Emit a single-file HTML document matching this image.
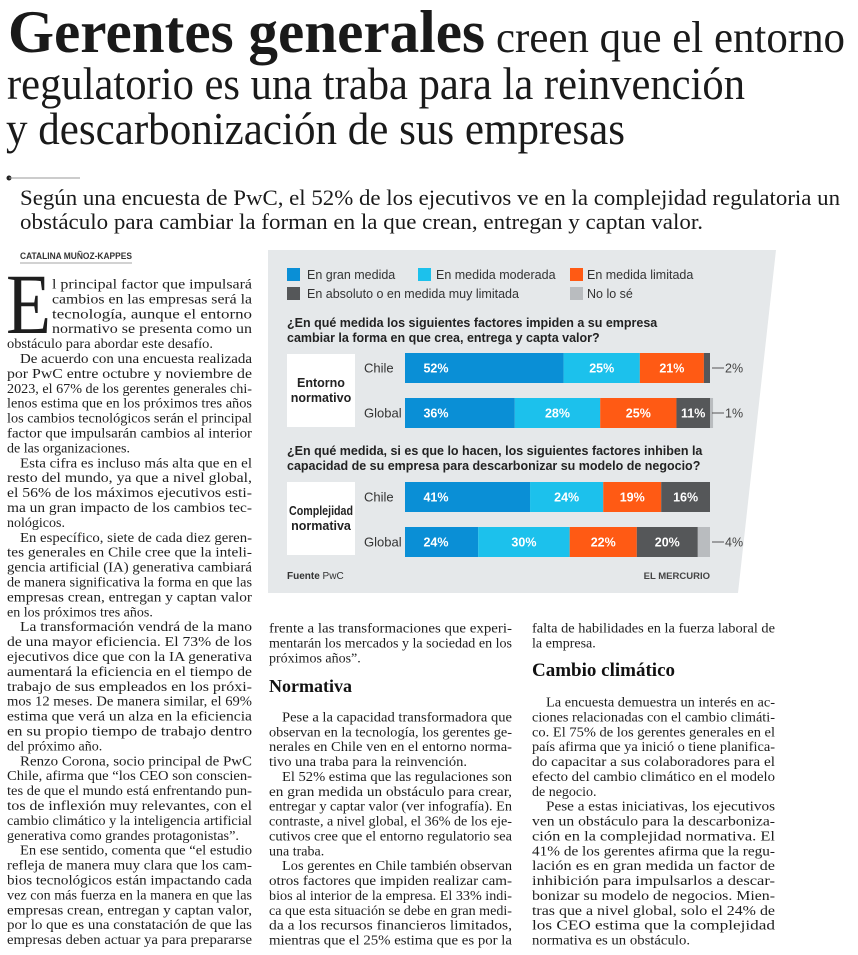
<!DOCTYPE html>
<html><head><meta charset="utf-8">
<style>
html,body{margin:0;padding:0;background:#fff;}
svg{display:block;}
.hd{font-family:"Liberation Serif",serif;fill:#1a1a1a;}
.bd{font-family:"Liberation Serif",serif;font-size:14px;fill:#1e1e1e;}
.sn{font-family:"Liberation Sans Narrow","Liberation Sans",sans-serif;}
</style></head>
<body>
<svg id="page" width="858" height="955" viewBox="0 0 858 955" xmlns="http://www.w3.org/2000/svg">
<g class="hd">
<text x="8" y="52" font-size="60" font-weight="bold" textLength="477" lengthAdjust="spacingAndGlyphs">Gerentes generales</text>
<text x="496" y="52" font-size="44" textLength="349" lengthAdjust="spacingAndGlyphs">creen que el entorno</text>
<text x="7" y="99" font-size="46" textLength="738" lengthAdjust="spacingAndGlyphs">regulatorio es una traba para la reinvención</text>
<text x="6" y="144" font-size="46" textLength="619" lengthAdjust="spacingAndGlyphs">y descarbonización de sus empresas</text>
</g>
<g>
<circle cx="9" cy="178" r="2.5" fill="#222"/>
<line x1="9" y1="178" x2="80" y2="178" stroke="#999" stroke-width="1"/>
</g>
<g class="hd">
<text x="20" y="205" font-size="22" textLength="820" lengthAdjust="spacingAndGlyphs">Según una encuesta de PwC, el 52% de los ejecutivos ve en la complejidad regulatoria un</text>
<text x="20" y="229" font-size="22" textLength="683" lengthAdjust="spacingAndGlyphs">obstáculo para cambiar la forman en la que crean, entregan y captan valor.</text>
</g>
<g>
<text x="20" y="259" class="sn" font-size="9.5" font-weight="bold" fill="#333" textLength="112" lengthAdjust="spacingAndGlyphs">CATALINA MUÑOZ-KAPPES</text>
<line x1="20" y1="263" x2="132" y2="263" stroke="#888" stroke-width="0.8"/>
</g>

<g class="bd">
<text x="6" y="333" font-size="86" textLength="45" lengthAdjust="spacingAndGlyphs">E</text>
<text x="52" y="288.5" textLength="200" lengthAdjust="spacingAndGlyphs">l principal factor que impulsará</text>
<text x="52" y="303.4" textLength="200" lengthAdjust="spacingAndGlyphs">cambios en las empresas será la</text>
<text x="52" y="318.3" textLength="200" lengthAdjust="spacingAndGlyphs">tecnología, aunque el entorno</text>
<text x="52" y="333.2" textLength="200" lengthAdjust="spacingAndGlyphs">normativo se presenta como un</text>
<text x="7" y="348.1" textLength="206" lengthAdjust="spacingAndGlyphs">obstáculo para abordar este desafío.</text>
<text x="20" y="363.0" textLength="232" lengthAdjust="spacingAndGlyphs">De acuerdo con una encuesta realizada</text>
<text x="7" y="377.9" textLength="245" lengthAdjust="spacingAndGlyphs">por PwC entre octubre y noviembre de</text>
<text x="7" y="392.8" textLength="245" lengthAdjust="spacingAndGlyphs">2023, el 67% de los gerentes generales chi-</text>
<text x="7" y="407.7" textLength="245" lengthAdjust="spacingAndGlyphs">lenos estima que en los próximos tres años</text>
<text x="7" y="422.6" textLength="245" lengthAdjust="spacingAndGlyphs">los cambios tecnológicos serán el principal</text>
<text x="7" y="437.5" textLength="245" lengthAdjust="spacingAndGlyphs">factor que impulsarán cambios al interior</text>
<text x="7" y="452.4">de las organizaciones.</text>
<text x="20" y="467.3" textLength="232" lengthAdjust="spacingAndGlyphs">Esta cifra es incluso más alta que en el</text>
<text x="7" y="482.2" textLength="245" lengthAdjust="spacingAndGlyphs">resto del mundo, ya que a nivel global,</text>
<text x="7" y="497.1" textLength="245" lengthAdjust="spacingAndGlyphs">el 56% de los máximos ejecutivos esti-</text>
<text x="7" y="512.0" textLength="245" lengthAdjust="spacingAndGlyphs">ma un gran impacto de los cambios tec-</text>
<text x="7" y="526.9">nológicos.</text>
<text x="20" y="541.8" textLength="232" lengthAdjust="spacingAndGlyphs">En específico, siete de cada diez geren-</text>
<text x="7" y="556.7" textLength="245" lengthAdjust="spacingAndGlyphs">tes generales en Chile cree que la inteli-</text>
<text x="7" y="571.6" textLength="245" lengthAdjust="spacingAndGlyphs">gencia artificial (IA) generativa cambiará</text>
<text x="7" y="586.5" textLength="245" lengthAdjust="spacingAndGlyphs">de manera significativa la forma en que las</text>
<text x="7" y="601.4" textLength="245" lengthAdjust="spacingAndGlyphs">empresas crean, entregan y captan valor</text>
<text x="7" y="616.3">en los próximos tres años.</text>
<text x="20" y="631.2" textLength="232" lengthAdjust="spacingAndGlyphs">La transformación vendrá de la mano</text>
<text x="7" y="646.1" textLength="245" lengthAdjust="spacingAndGlyphs">de una mayor eficiencia. El 73% de los</text>
<text x="7" y="661.0" textLength="245" lengthAdjust="spacingAndGlyphs">ejecutivos dice que con la IA generativa</text>
<text x="7" y="675.9" textLength="245" lengthAdjust="spacingAndGlyphs">aumentará la eficiencia en el tiempo de</text>
<text x="7" y="690.8" textLength="245" lengthAdjust="spacingAndGlyphs">trabajo de sus empleados en los próxi-</text>
<text x="7" y="705.7" textLength="245" lengthAdjust="spacingAndGlyphs">mos 12 meses. De manera similar, el 69%</text>
<text x="7" y="720.6" textLength="245" lengthAdjust="spacingAndGlyphs">estima que verá un alza en la eficiencia</text>
<text x="7" y="735.5" textLength="245" lengthAdjust="spacingAndGlyphs">en su propio tiempo de trabajo dentro</text>
<text x="7" y="750.4">del próximo año.</text>
<text x="20" y="765.3" textLength="232" lengthAdjust="spacingAndGlyphs">Renzo Corona, socio principal de PwC</text>
<text x="7" y="780.2" textLength="245" lengthAdjust="spacingAndGlyphs">Chile, afirma que “los CEO son conscien-</text>
<text x="7" y="795.1" textLength="245" lengthAdjust="spacingAndGlyphs">tes de que el mundo está enfrentando pun-</text>
<text x="7" y="810.0" textLength="245" lengthAdjust="spacingAndGlyphs">tos de inflexión muy relevantes, con el</text>
<text x="7" y="824.9" textLength="245" lengthAdjust="spacingAndGlyphs">cambio climático y la inteligencia artificial</text>
<text x="7" y="839.8" textLength="232" lengthAdjust="spacingAndGlyphs">generativa como grandes protagonistas”.</text>
<text x="20" y="854.7" textLength="232" lengthAdjust="spacingAndGlyphs">En ese sentido, comenta que “el estudio</text>
<text x="7" y="869.6" textLength="245" lengthAdjust="spacingAndGlyphs">refleja de manera muy clara que los cam-</text>
<text x="7" y="884.5" textLength="245" lengthAdjust="spacingAndGlyphs">bios tecnológicos están impactando cada</text>
<text x="7" y="899.4" textLength="245" lengthAdjust="spacingAndGlyphs">vez con más fuerza en la manera en que las</text>
<text x="7" y="914.3" textLength="245" lengthAdjust="spacingAndGlyphs">empresas crean, entregan y captan valor,</text>
<text x="7" y="929.2" textLength="245" lengthAdjust="spacingAndGlyphs">por lo que es una constatación de que las</text>
<text x="7" y="944.1" textLength="245" lengthAdjust="spacingAndGlyphs">empresas deben actuar ya para prepararse</text>
</g>

<g class="bd">
<text x="269" y="632.5" textLength="243" lengthAdjust="spacingAndGlyphs">frente a las transformaciones que experi-</text>
<text x="269" y="647.4" textLength="243" lengthAdjust="spacingAndGlyphs">mentarán los mercados y la sociedad en los</text>
<text x="269" y="662.3">próximos años”.</text>
<text x="269" y="692" font-size="18" font-weight="bold" fill="#111">Normativa</text>
<text x="282" y="721.5" textLength="230" lengthAdjust="spacingAndGlyphs">Pese a la capacidad transformadora que</text>
<text x="269" y="736.4" textLength="243" lengthAdjust="spacingAndGlyphs">observan en la tecnología, los gerentes ge-</text>
<text x="269" y="751.2" textLength="243" lengthAdjust="spacingAndGlyphs">nerales en Chile ven en el entorno norma-</text>
<text x="269" y="766.1" textLength="198" lengthAdjust="spacingAndGlyphs">tivo una traba para la reinvención.</text>
<text x="282" y="781.0" textLength="230" lengthAdjust="spacingAndGlyphs">El 52% estima que las regulaciones son</text>
<text x="269" y="795.9" textLength="243" lengthAdjust="spacingAndGlyphs">en gran medida un obstáculo para crear,</text>
<text x="269" y="810.7" textLength="243" lengthAdjust="spacingAndGlyphs">entregar y captar valor (ver infografía). En</text>
<text x="269" y="825.6" textLength="243" lengthAdjust="spacingAndGlyphs">contraste, a nivel global, el 36% de los eje-</text>
<text x="269" y="840.5" textLength="243" lengthAdjust="spacingAndGlyphs">cutivos cree que el entorno regulatorio sea</text>
<text x="269" y="855.3">una traba.</text>
<text x="282" y="870.2" textLength="230" lengthAdjust="spacingAndGlyphs">Los gerentes en Chile también observan</text>
<text x="269" y="885.1" textLength="243" lengthAdjust="spacingAndGlyphs">otros factores que impiden realizar cam-</text>
<text x="269" y="900.0" textLength="243" lengthAdjust="spacingAndGlyphs">bios al interior de la empresa. El 33% indi-</text>
<text x="269" y="914.8" textLength="243" lengthAdjust="spacingAndGlyphs">ca que esta situación se debe en gran medi-</text>
<text x="269" y="929.7" textLength="243" lengthAdjust="spacingAndGlyphs">da a los recursos financieros limitados,</text>
<text x="269" y="944.6" textLength="243" lengthAdjust="spacingAndGlyphs">mientras que el 25% estima que es por la</text>
</g>

<g class="bd">
<text x="532" y="632.5" textLength="243" lengthAdjust="spacingAndGlyphs">falta de habilidades en la fuerza laboral de</text>
<text x="532" y="647.4">la empresa.</text>
<text x="532" y="676" font-size="19" font-weight="bold" fill="#111">Cambio climático</text>
<text x="546" y="706.5" textLength="229" lengthAdjust="spacingAndGlyphs">La encuesta demuestra un interés en ac-</text>
<text x="532" y="721.4" textLength="243" lengthAdjust="spacingAndGlyphs">ciones relacionadas con el cambio climáti-</text>
<text x="532" y="736.3" textLength="243" lengthAdjust="spacingAndGlyphs">co. El 75% de los gerentes generales en el</text>
<text x="532" y="751.1" textLength="243" lengthAdjust="spacingAndGlyphs">país afirma que ya inició o tiene planifica-</text>
<text x="532" y="766.0" textLength="243" lengthAdjust="spacingAndGlyphs">do capacitar a sus colaboradores para el</text>
<text x="532" y="780.9" textLength="243" lengthAdjust="spacingAndGlyphs">efecto del cambio climático en el modelo</text>
<text x="532" y="795.8">de negocio.</text>
<text x="546" y="810.6" textLength="229" lengthAdjust="spacingAndGlyphs">Pese a estas iniciativas, los ejecutivos</text>
<text x="532" y="825.5" textLength="243" lengthAdjust="spacingAndGlyphs">ven un obstáculo para la descarboniza-</text>
<text x="532" y="840.4" textLength="243" lengthAdjust="spacingAndGlyphs">ción en la complejidad normativa. El</text>
<text x="532" y="855.3" textLength="243" lengthAdjust="spacingAndGlyphs">41% de los gerentes afirma que la regu-</text>
<text x="532" y="870.1" textLength="243" lengthAdjust="spacingAndGlyphs">lación es en gran medida un factor de</text>
<text x="532" y="885.0" textLength="243" lengthAdjust="spacingAndGlyphs">inhibición para impulsarlos a descar-</text>
<text x="532" y="899.9" textLength="243" lengthAdjust="spacingAndGlyphs">bonizar su modelo de negocios. Mien-</text>
<text x="532" y="914.8" textLength="243" lengthAdjust="spacingAndGlyphs">tras que a nivel global, solo el 24% de</text>
<text x="532" y="929.6" textLength="243" lengthAdjust="spacingAndGlyphs">los CEO estima que la complejidad</text>
<text x="532" y="944.5" textLength="158" lengthAdjust="spacingAndGlyphs">normativa es un obstáculo.</text>
</g>

<g id="chart">
<polygon points="268,250 776,250 738,593 268,593" fill="#e5e8ea"/>
<g class="sn" font-size="12.5" fill="#333">
<g><rect x="287" y="268" width="13" height="13" fill="#0a8fd6"/><text x="307" y="279">En gran medida</text></g>
<g><rect x="418" y="268" width="13" height="13" fill="#1cc1ec"/><text x="436" y="279">En medida moderada</text></g>
<g><rect x="570" y="268" width="13" height="13" fill="#ff5a14"/><text x="587" y="279">En medida limitada</text></g>
<g><rect x="287" y="287" width="13" height="13" fill="#555759"/><text x="307" y="298">En absoluto o en medida muy limitada</text></g>
<g><rect x="570" y="287" width="13" height="13" fill="#b9bcbf"/><text x="587" y="298">No lo sé</text></g>
</g>
<g class="sn" font-size="12.5" font-weight="bold" fill="#222">
<text x="287" y="327">¿En qué medida los siguientes factores impiden a su empresa</text>
<text x="287" y="342">cambiar la forma en que crea, entrega y capta valor?</text>
</g>
<g class="sn" font-size="12.5" font-weight="bold" fill="#222">
<text x="287" y="455">¿En qué medida, si es que lo hacen, los siguientes factores inhiben la</text>
<text x="287" y="470">capacidad de su empresa para descarbonizar su modelo de negocio?</text>
</g>
<g>
<rect x="287" y="354" width="68" height="73" fill="#fff"/>
<text class="sn" x="321" y="387" font-size="12.5" font-weight="bold" text-anchor="middle" fill="#222">Entorno</text>
<text class="sn" x="321" y="402" font-size="12.5" font-weight="bold" text-anchor="middle" fill="#222">normativo</text>
</g>
<g>
<rect x="287" y="482" width="68" height="73" fill="#fff"/>
<text class="sn" x="321" y="515" font-size="12.5" font-weight="bold" text-anchor="middle" fill="#222" textLength="64" lengthAdjust="spacingAndGlyphs">Complejidad</text>
<text class="sn" x="321" y="530" font-size="12.5" font-weight="bold" text-anchor="middle" fill="#222">normativa</text>
</g>
<g id="bars"></g>
<text class="sn" x="287" y="579" font-size="10" fill="#333"><tspan font-weight="bold">Fuente</tspan>  PwC</text>
<text class="sn" x="710" y="579" font-size="9.5" font-weight="bold" fill="#444" text-anchor="end">EL MERCURIO</text>
</g>
</svg>
<script>
const rowLabels = ["Chile", "Global", "Chile", "Global"];
const granMedida = [52, 36, 41, 24];
const moderada = [25, 28, 24, 30];
const limitada = [21, 25, 19, 22];
const absoluto = [2, 11, 16, 20];
const noLoSe = [0, 1, 0, 4];

(function(){
  const NS = "http://www.w3.org/2000/svg";
  const g = document.getElementById("bars");
  const x0 = 405, W = 305;
  const rowY = [353, 398, 482, 527], barH = 30;
  const colors = ["#0a8fd6", "#1cc1ec", "#ff5a14", "#555759", "#b9bcbf"];
  const series = [granMedida, moderada, limitada, absoluto, noLoSe];
  const xs = v => v / 100 * W;
  function mk(tag, attrs){ const e = document.createElementNS(NS, tag); for (const k in attrs) e.setAttribute(k, attrs[k]); return e; }
  for (let r = 0; r < rowLabels.length; r++) {
    const y = rowY[r];
    const lab = mk("text", {x: 364, y: y + barH/2 + 4.5, "font-size": 13, fill: "#333", class: "sn"});
    
    
    lab.textContent = rowLabels[r];
    g.appendChild(lab);
    let cx = x0;
    for (let s = 0; s < series.length; s++) {
      const v = series[s][r];
      if (!v) continue;
      const w = xs(v);
      const rect = mk("rect", {x: cx, y: y, width: w, height: barH, fill: colors[s]});
      
      
      g.appendChild(rect);
      if (v >= 5) {
        const tx = s === 0 ? cx + 31 : cx + w / 2;
        const t = mk("text", {x: tx, y: y + barH/2 + 4.5, "font-size": 12.5, "font-weight": "bold", fill: "#fff", "text-anchor": "middle", class: "sn"});
        
        
        t.textContent = v + "%";
        g.appendChild(t);
      } else {
        const ln = mk("line", {x1: x0 + W + 2, x2: x0 + W + 14, y1: y + barH/2, y2: y + barH/2, stroke: "#555", "stroke-width": 1});
        
        
        g.appendChild(ln);
        const t = mk("text", {x: x0 + W + 15, y: y + barH/2 + 4.5, "font-size": 12.5, fill: "#444", class: "sn"});
        
        
        t.textContent = v + "%";
        g.appendChild(t);
      }
      cx += w;
    }
  }
})();
</script>
</body></html>
